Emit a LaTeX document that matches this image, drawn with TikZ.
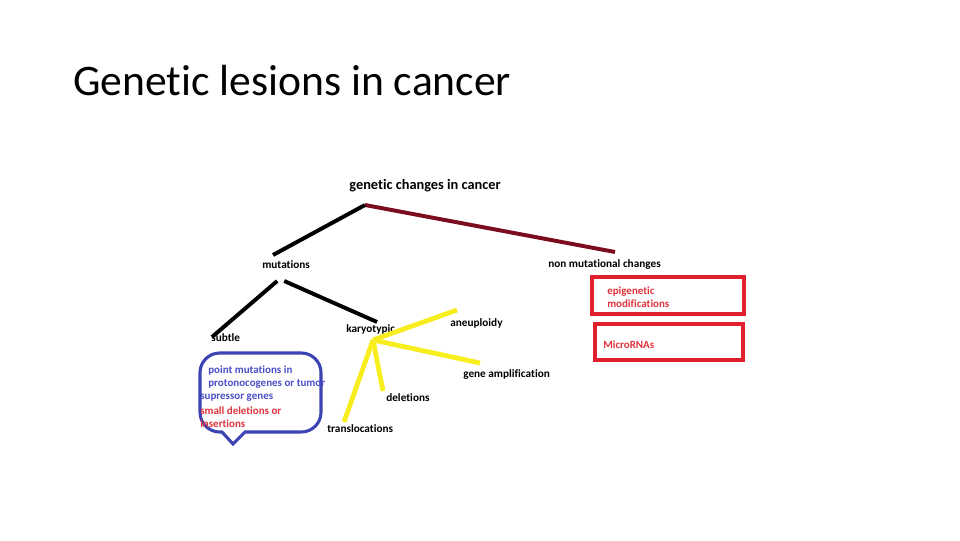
\documentclass[tikz,border=0pt]{standalone}
\usepackage{fontspec}
\setmainfont[Ligatures=NoCommon]{Carlito}
\usepackage{tikz}
\usetikzlibrary{positioning,calc}

\definecolor{maroon}{HTML}{7B0D1E}
\definecolor{hiyellow}{HTML}{F8EE1E}
\definecolor{boxred}{HTML}{E0202C}
\definecolor{boxblue}{HTML}{3C44B4}
\definecolor{txtblue}{HTML}{4B50C8}
\definecolor{txtred}{HTML}{E0343C}

\begin{document}
\begin{tikzpicture}[
      x=0.025cm,y=-0.025cm,
      label/.style={font=\bfseries\fontsize{8}{9}\selectfont,anchor=west,inner sep=0pt},
      branch/.style={line width=2.8pt},
      ray/.style={line width=3.4pt,hiyellow},
      redbox/.style={draw=boxred,line width=2.5pt},
      callout/.style={draw=boxblue,line width=2.2pt},
      boxtext/.style={font=\bfseries\fontsize{7.8}{9}\selectfont,anchor=west,inner sep=0pt}
      ]

      \useasboundingbox[fill=white] (0,0) rectangle (960,540);

      \node[anchor=base west,inner sep=0pt,font=\fontsize{31}{36}\selectfont] (title) at (73,95) {Genetic lesions in cancer};

      \node[font=\bfseries\fontsize{10.2}{12}\selectfont,inner sep=0pt] (root) at (425,186) {genetic changes in cancer};

      \node[label] (mutations) at (262,265) {mutations};
      \node[label] (nonmut) at (548,265) {non mutational changes};
      \node[label] (subtle) at (211,338) {subtle};
      \node[label] (karyo) at (346,329) {karyotypic};
      \node[label] (aneu) at (450,323) {aneuploidy};
      \node[label] (geneamp) at (463,375) {gene amplification};
      \node[label] (deletions) at (386,398) {deletions};
      \node[label] (transloc) at (327,429) {translocations};

      \coordinate (top) at (365,205);
      \coordinate (mutup) at (273,255);
      \coordinate (nonup) at (615,252);
      \coordinate (mutdown) at (280,281);
      \coordinate (subup) at (212,337);
      \coordinate (karup) at (377,322);
      \coordinate (hub) at (373,340);
      \coordinate (aneuend) at (457,310);
      \coordinate (ampend) at (480,363);
      \coordinate (delend) at (383,391);
      \coordinate (transend) at (344,422);

      \draw[branch,maroon] (top)--(nonup);
      \draw[branch] (top)--(mutup);
      \draw[branch] ([xshift=-2]mutdown)--(subup);
      \draw[branch] ([xshift=3]mutdown)--(karup);

      \draw[ray] (hub)--(aneuend);
      \draw[ray] (hub)--(ampend);
      \draw[ray] (hub)--(delend);
      \draw[ray] (hub)--(transend);

      \draw[callout] (222,432) -- (233,444) -- (245,432)
        {[rounded corners=14] -- (321,432) -- (321,353) -- (200,353) -- (200,432)} -- cycle;
      \node[boxtext,txtblue] (pm1) at (208,371) {point mutations in};
      \node[boxtext,txtblue] (pm2) at (208,384) {protonocogenes or tumor};
      \node[boxtext,txtblue] (pm3) at (200,398) {supressor genes};
      \node[boxtext,txtred] (sd1) at (200,411) {small deletions or};
      \node[boxtext,txtred] (sd2) at (200,424) {insertions};

      \draw[redbox] (592,277) rectangle (744,314);
      \node[boxtext,txtred,align=left] (epi) at (607,297.5) {epigenetic\\modifications};
      \draw[redbox] (595,324) rectangle (743,360);
      \node[boxtext,txtred] (mirna) at (603,345) {MicroRNAs};

    \end{tikzpicture}
\end{document}
